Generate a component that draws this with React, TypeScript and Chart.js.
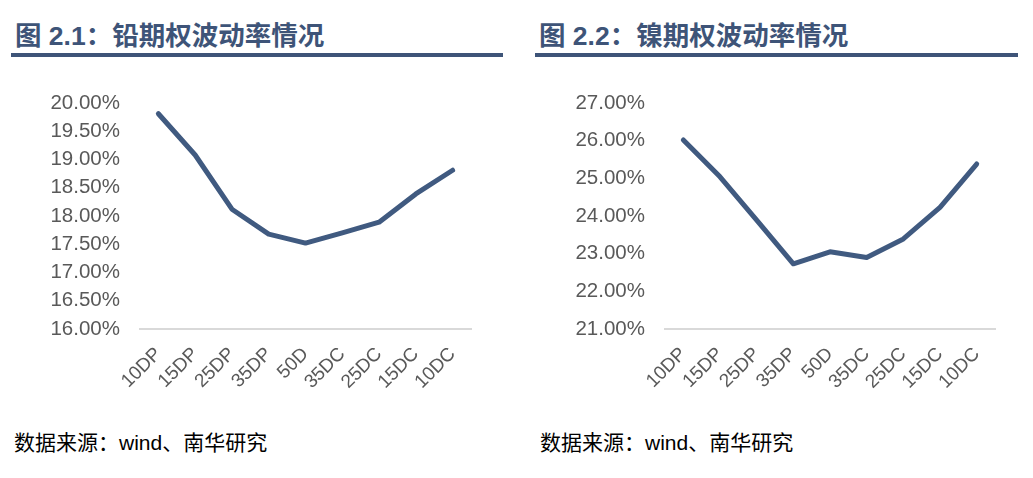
import React, { useEffect, useRef } from "react";
import { Chart, registerables } from "chart.js";

Chart.register(...registerables);

const categories = ["10DP", "15DP", "25DP", "35DP", "50D", "35DC", "25DC", "15DC", "10DC"];
const leadValues = [19.81, 19.08, 18.12, 17.68, 17.52, 17.7, 17.89, 18.39, 18.81];
const nickelValues = [26.02, 25.04, 23.89, 22.73, 23.05, 22.9, 23.39, 24.23, 25.38];

const leadTitle = "图 2.1：铅期权波动率情况";
const nickelTitle = "图 2.2：镍期权波动率情况";
const sourceText = "数据来源：wind、南华研究";

const BLUE = "#405A80";

type PanelProps = {
  values: number[];
  min: number;
  max: number;
  step: number;
  yWidth: number;
  rightPad: number;
};

function LineChart({ values, min, max, step, yWidth, rightPad }: PanelProps) {
  const ref = useRef<HTMLCanvasElement | null>(null);
  useEffect(() => {
    if (!ref.current) return;
    const chart = new Chart(ref.current, {
      type: "line",
      data: {
        labels: categories,
        datasets: [
          {
            data: values,
            borderColor: BLUE,
            borderWidth: 5,
            pointRadius: 0,
            tension: 0,
            borderCapStyle: "round",
            borderJoinStyle: "round",
            fill: false,
          },
        ],
      },
      options: {
        animation: false,
        responsive: false,
        maintainAspectRatio: false,
        layout: { padding: { left: 0, right: rightPad, top: 33, bottom: 0 } },
        plugins: { legend: { display: false }, tooltip: { enabled: false }, title: { display: false } },
        scales: {
          x: {
            offset: true,
            grid: { display: false, drawTicks: false },
            border: { display: true, color: "#D9D9D9", width: 2 },
            ticks: {
              color: "#595959",
              font: { family: "'Liberation Sans', Arial, sans-serif", size: 19 },
              minRotation: 45,
              maxRotation: 45,
              padding: 14,
              autoSkip: false,
            },
            afterFit: (s: any) => {
              s.height = 91;
            },
          },
          y: {
            min,
            max,
            grid: { display: false, drawTicks: false },
            border: { display: false },
            ticks: {
              stepSize: step,
              color: "#595959",
              padding: 20,
              font: { family: "'Liberation Sans', Arial, sans-serif", size: 20.5 },
              callback: (v: any) => Number(v).toFixed(2) + "%",
            },
            afterFit: (s: any) => {
              s.width = yWidth;
            },
          },
        },
      },
    });
    return () => chart.destroy();
  }, []);
  return <canvas ref={ref} width={500} height={350} style={{ width: 500, height: 350, display: "block" }} />;
}

const titleStyle: React.CSSProperties = {
  position: "absolute",
  top: 23,
  fontFamily: "'Liberation Sans', 'Noto Sans CJK SC', sans-serif",
  fontWeight: 700,
  fontSize: 26.5,
  lineHeight: "27px",
  color: "#3E5478",
  whiteSpace: "nowrap",
};

const footStyle: React.CSSProperties = {
  position: "absolute",
  top: 432,
  fontFamily: "'Liberation Sans', 'Noto Sans CJK SC', sans-serif",
  fontSize: 21,
  lineHeight: "21px",
  color: "#000",
  whiteSpace: "nowrap",
};

export default function App() {
  return (
    <div style={{ position: "fixed", left: 0, top: 0, width: 1033, height: 478, background: "#fff", overflow: "hidden" }}>
      <div style={{ ...titleStyle, left: 15 }}>{leadTitle}</div>
      <div style={{ position: "absolute", left: 11, top: 53, width: 492, height: 4, background: "#3E5478" }} />
      <div style={{ position: "absolute", left: 0, top: 70 }}>
        <LineChart values={leadValues} min={16} max={20} step={0.5} yWidth={140} rightPad={29} />
      </div>
      <div style={{ ...footStyle, left: 14 }}>{sourceText}</div>

      <div style={{ ...titleStyle, left: 539 }}>{nickelTitle}</div>
      <div style={{ position: "absolute", left: 535, top: 53, width: 483, height: 4, background: "#3E5478" }} />
      <div style={{ position: "absolute", left: 520, top: 70 }}>
        <LineChart values={nickelValues} min={21} max={27} step={1} yWidth={145} rightPad={25} />
      </div>
      <div style={{ ...footStyle, left: 540 }}>{sourceText}</div>
    </div>
  );
}
